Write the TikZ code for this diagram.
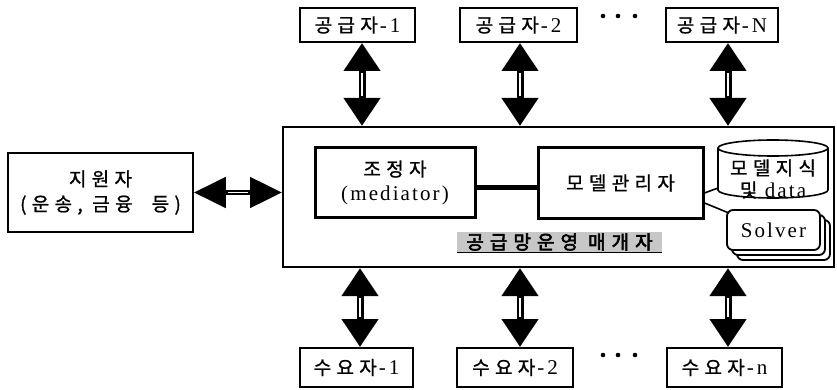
\documentclass[tikz,border=0pt]{standalone}
\usepackage{fontspec}
\setmainfont{Liberation Serif}
\newfontfamily\kr[LetterSpace=28,FakeBold=1]{Noto Sans CJK KR}
\newfontfamily\krb[LetterSpace=32,FakeBold=3]{Noto Sans CJK KR}
\newfontfamily\lat[LetterSpace=10]{Liberation Serif}
\usetikzlibrary{arrows.meta}
\newcommand\ko[1]{{\kr\fontsize{19}{25}\selectfont #1}}
\newcommand\kob[1]{{\krb\fontsize{19}{25}\selectfont #1}}
\newcommand\la[1]{{\lat\fontsize{21}{25}\selectfont #1}}
\newcommand\lbl[2]{\ko{#1}\hspace{2pt}\la{-\hspace{3pt}#2}}
\tikzset{
  box/.style={draw, line width=1.8pt, inner sep=0pt, align=center, fill=white, font=\fontsize{19}{25}\selectfont},
  ibox/.style={draw, line width=3pt, inner sep=0pt, align=center, fill=white, font=\fontsize{19}{24}\selectfont},
  bigarr/.style={line width=7pt, {Triangle[width=35pt,length=28pt]}-{Triangle[width=35pt,length=28pt]}},
  gapline/.style={white, line width=2pt, shorten <=30pt, shorten >=30pt},
  sidearr/.style={line width=5pt, {Triangle[width=30pt,length=32pt]}-{Triangle[width=30pt,length=32pt]}},
  sidegap/.style={white, line width=1.4pt, shorten <=34pt, shorten >=34pt},
  thinline/.style={line width=1.6pt},
  solverbox/.style={draw, line width=1.8pt, rounded corners=6pt, fill=white, minimum width=93pt, minimum height=40pt, inner sep=0pt},
}
\begin{document}
\begin{tikzpicture}[x=1pt,y=-1pt]
\useasboundingbox (0,0) rectangle (837,390);

% main box
\node[box, line width=2pt, minimum width=551pt, minimum height=140pt] (mb) at (558.5,197) {};

% supplier boxes
\node[box, minimum width=115pt, minimum height=34pt] (s1) at (357.5,25) {\lbl{공급자}{1}};
\node[box, minimum width=117pt, minimum height=34pt] (s2) at (518.5,25) {\lbl{공급자}{2}};
\node[box, minimum width=112pt, minimum height=34pt] (sN) at (722,25) {\lbl{공급자}{N}};

% demand boxes
\node[box, minimum width=113pt, minimum height=39pt] (d1) at (356.5,367.5) {\lbl{수요자}{1}};
\node[box, minimum width=116pt, minimum height=39pt] (d2) at (515,367.5) {\lbl{수요자}{2}};
\node[box, minimum width=115pt, minimum height=39pt] (dN) at (724.5,367.5) {\lbl{수요자}{n}};

% support box
\node[box, minimum width=185pt, minimum height=79pt] (sup) at (100.5,192.5) {\ko{지원자}\\\ko{(운송, 금융\ \ 등)}};

% dots
\foreach \xx in {603,618,635}{
  \fill (\xx,16) circle[radius=2.3pt];
  \fill (\xx,355) circle[radius=2.3pt];
}

% inner boxes
\node[ibox, minimum width=160pt, minimum height=69pt] (med) at (395,182.5) {\ko{조정자}\\\la{(mediator)}};
\node[ibox, minimum width=165pt, minimum height=70pt] (mod) at (620.5,183) {\ko{모델관리자}};
\draw[line width=5pt] ([yshift=-5pt]med.east) -- ([yshift=-5pt]med.east -| mod.west);

% title
\node[fill=black!22, inner sep=0pt, minimum width=205pt, minimum height=20pt] (ttl) at (559.5,242) {\kob{공급망운영}\hspace{10pt}\kob{매개자}};
\draw[line width=1.2pt] (ttl.south west) -- (ttl.south east);

% cylinder
\draw[line width=1.6pt, fill=white] (718,148) -- (718,190) arc[start angle=180, end angle=360, x radius=55pt, y radius=8pt] -- (828,148);
\draw[line width=1.6pt, fill=white] (773,148) ellipse[x radius=55pt, y radius=8pt];
\node[inner sep=0pt, align=center, font=\fontsize{19}{22}\selectfont] (db) at (773,179) {\ko{모델지식}\\\ko{및}\la{ data}};
\coordinate (dbw) at (718,188);

% solver stack
\node[solverbox] (sol3) at (783.5,240) {};
\node[solverbox] (sol2) at (778.5,235) {};
\node[solverbox] (sol) at (773.5,230) {\la{Solver}};

% connectors
\draw[thinline] ([yshift=-10pt]mod.east) -- (dbw);
\draw[thinline] ([yshift=-20pt]mod.east) -- ([shift={(3pt,-4pt)}]sol.north west);

% top arrows
\foreach \n/\dx in {s1/4.5, s2/1.5, sN/6}{
  \draw[bigarr] ([xshift=\dx pt]\n.south) -- ([xshift=\dx pt]\n.south |- mb.north);
  \draw[gapline] ([xshift=\dx pt]\n.south) -- ([xshift=\dx pt]\n.south |- mb.north);
}
% bottom arrows
\foreach \n/\dx in {d1/3.5, d2/5, dN/3.5}{
  \draw[bigarr] ([xshift=\dx pt]\n.south |- mb.south) -- ([xshift=\dx pt]\n.north);
  \draw[gapline] ([xshift=\dx pt]\n.south |- mb.south) -- ([xshift=\dx pt]\n.north);
}
% side arrow
\draw[sidearr] (sup.east) -- (sup.east -| mb.west);
\draw[sidegap] (sup.east) -- (sup.east -| mb.west);
\end{tikzpicture}
\end{document}
